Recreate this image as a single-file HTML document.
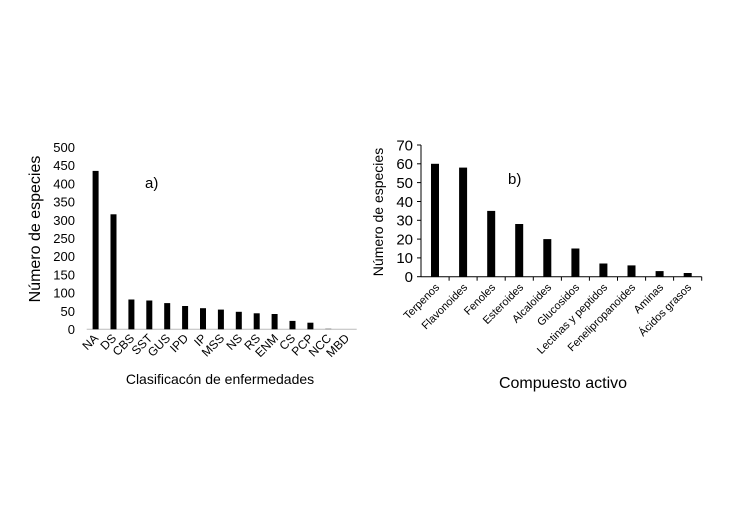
<!DOCTYPE html>
<html><head><meta charset="utf-8"><style>body{margin:0;background:#fff}svg{display:block}</style></head><body>
<svg width="742" height="512" xmlns="http://www.w3.org/2000/svg" font-family="Liberation Sans, Arial, sans-serif">
<rect width="742" height="512" fill="#fff"/>
<g id="a">
<line x1="86.7" y1="329.3" x2="356.7" y2="329.3" stroke="#bbb" stroke-width="1"/>
<g font-size="13" text-anchor="end" fill="#000">
<text x="75" y="334">0</text><text x="75" y="315.8">50</text><text x="75" y="297.6">100</text><text x="75" y="279.4">150</text><text x="75" y="261.2">200</text><text x="75" y="243">250</text><text x="75" y="224.8">300</text><text x="75" y="206.6">350</text><text x="75" y="188.4">400</text><text x="75" y="170.2">450</text><text x="75" y="152">500</text>
</g>
<g fill="#000">
<rect x="92.6" y="170.9" width="6" height="158.4"/>
<rect x="110.5" y="214.3" width="6" height="115"/>
<rect x="128.4" y="299.5" width="6" height="29.8"/>
<rect x="146.3" y="300.5" width="6" height="28.8"/>
<rect x="164.2" y="303.1" width="6" height="26.2"/>
<rect x="182.1" y="306" width="6" height="23.3"/>
<rect x="200" y="308.2" width="6" height="21.1"/>
<rect x="217.9" y="309.6" width="6" height="19.7"/>
<rect x="235.8" y="311.8" width="6" height="17.5"/>
<rect x="253.7" y="313.3" width="6" height="16"/>
<rect x="271.6" y="314" width="6" height="15.3"/>
<rect x="289.5" y="320.9" width="6" height="8.4"/>
<rect x="307.4" y="322.7" width="6" height="6.6"/>
<rect x="325.3" y="328.5" width="6" height="0.8" fill="#888"/>
</g>
<g font-size="12" text-anchor="end">
<text transform="translate(99,339) rotate(-45)">NA</text>
<text transform="translate(117,339) rotate(-45)">DS</text>
<text transform="translate(135,339) rotate(-45)">CBS</text>
<text transform="translate(153,339) rotate(-45)">SST</text>
<text transform="translate(171,339) rotate(-45)">GUS</text>
<text transform="translate(189,339) rotate(-45)">IPD</text>
<text transform="translate(207,339) rotate(-45)">IP</text>
<text transform="translate(225,339) rotate(-45)">MSS</text>
<text transform="translate(243,339) rotate(-45)">NS</text>
<text transform="translate(261,339) rotate(-45)">RS</text>
<text transform="translate(279,339) rotate(-45)">ENM</text>
<text transform="translate(296,339) rotate(-45)">CS</text>
<text transform="translate(314,339) rotate(-45)">PCP</text>
<text transform="translate(332,339) rotate(-45)">NCC</text>
<text transform="translate(350,339) rotate(-45)">MBD</text>
</g>
<text x="145" y="188" font-size="15">a)</text>
<text transform="translate(40,229) rotate(-90)" font-size="16" text-anchor="middle">Número de especies</text>
<text x="220" y="384" font-size="14" text-anchor="middle">Clasificacón de enfermedades</text>
</g>
<g id="b">
<line x1="421" y1="145" x2="421" y2="276.7" stroke="#000"/>
<line x1="421" y1="276.7" x2="701.7" y2="276.7" stroke="#000"/>
<g stroke="#000">
<line x1="417" y1="145" x2="421" y2="145"/><line x1="417" y1="163.8" x2="421" y2="163.8"/><line x1="417" y1="182.6" x2="421" y2="182.6"/><line x1="417" y1="201.5" x2="421" y2="201.5"/><line x1="417" y1="220.3" x2="421" y2="220.3"/><line x1="417" y1="239.1" x2="421" y2="239.1"/><line x1="417" y1="257.9" x2="421" y2="257.9"/><line x1="417" y1="276.7" x2="421" y2="276.7"/>
<line x1="449.1" y1="276.7" x2="449.1" y2="280.7"/><line x1="477.1" y1="276.7" x2="477.1" y2="280.7"/><line x1="505.2" y1="276.7" x2="505.2" y2="280.7"/><line x1="533.3" y1="276.7" x2="533.3" y2="280.7"/><line x1="561.4" y1="276.7" x2="561.4" y2="280.7"/><line x1="589.4" y1="276.7" x2="589.4" y2="280.7"/><line x1="617.5" y1="276.7" x2="617.5" y2="280.7"/><line x1="645.6" y1="276.7" x2="645.6" y2="280.7"/><line x1="673.6" y1="276.7" x2="673.6" y2="280.7"/><line x1="701.7" y1="276.7" x2="701.7" y2="280.7"/>
</g>
<g font-size="15" text-anchor="end">
<text x="413" y="282">0</text><text x="413" y="263.2">10</text><text x="413" y="244.4">20</text><text x="413" y="225.6">30</text><text x="413" y="206.8">40</text><text x="413" y="188">50</text><text x="413" y="169.2">60</text><text x="413" y="150.4">70</text>
</g>
<g fill="#000">
<rect x="431" y="163.8" width="8" height="112.9"/>
<rect x="459.1" y="167.6" width="8" height="109.1"/>
<rect x="487.2" y="210.9" width="8" height="65.8"/>
<rect x="515.2" y="224" width="8" height="52.7"/>
<rect x="543.3" y="239.1" width="8" height="37.6"/>
<rect x="571.4" y="248.5" width="8" height="28.2"/>
<rect x="599.4" y="263.5" width="8" height="13.2"/>
<rect x="627.5" y="265.4" width="8" height="11.3"/>
<rect x="655.6" y="271.1" width="8" height="5.6"/>
<rect x="683.7" y="273" width="8" height="3.7"/>
</g>
<g font-size="11" text-anchor="end">
<text transform="translate(440,288) rotate(-45)">Terpenos</text>
<text transform="translate(468,288) rotate(-45)">Flavonoides</text>
<text transform="translate(496,288) rotate(-45)">Fenoles</text>
<text transform="translate(524,288) rotate(-45)">Esteroides</text>
<text transform="translate(552,288) rotate(-45)">Alcaloides</text>
<text transform="translate(580,288) rotate(-45)">Glucosidos</text>
<text transform="translate(608,288) rotate(-45)">Lectinas y peptidos</text>
<text transform="translate(636,288) rotate(-45)">Fenelipropanoides</text>
<text transform="translate(664,288) rotate(-45)">Aminas</text>
<text transform="translate(692,288) rotate(-45)">Ácidos grasos</text>
</g>
<text x="508" y="184" font-size="15">b)</text>
<text transform="translate(383,212) rotate(-90)" font-size="14" text-anchor="middle">Número de especies</text>
<text x="563" y="388" font-size="16" text-anchor="middle">Compuesto activo</text>
</g>
</svg>
</body></html>
